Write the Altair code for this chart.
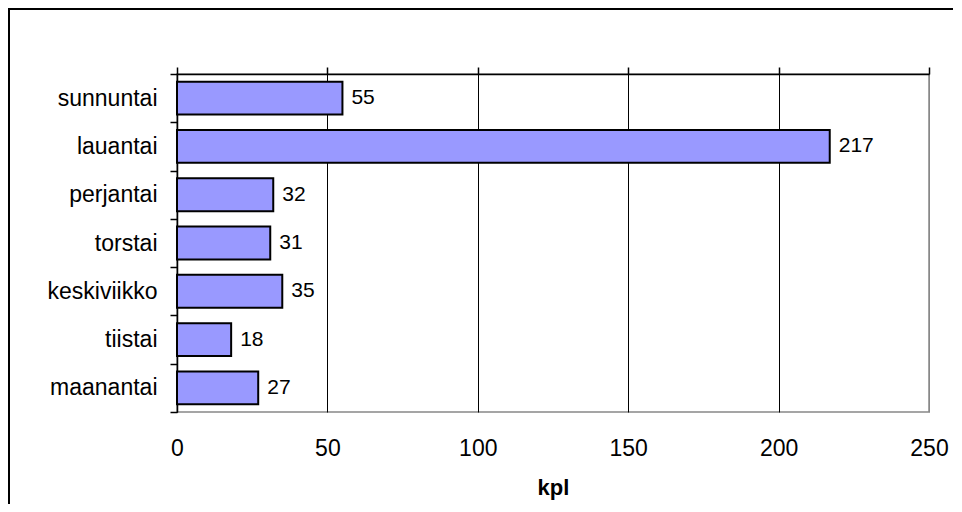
import altair as alt
import pandas as pd

days = ["sunnuntai", "lauantai", "perjantai", "torstai", "keskiviikko", "tiistai", "maanantai"]
counts = [55, 217, 32, 31, 35, 18, 27]
x_ticks = [0, 50, 100, 150, 200, 250]
x_title = "kpl"

df = pd.DataFrame({"day": days, "count": counts})

FONT = "Liberation Sans"

y_enc = alt.Y(
    "day:N",
    sort=days,
    scale=alt.Scale(paddingInner=0, paddingOuter=0),
    axis=alt.Axis(
        title=None,
        domain=True,
        domainColor="black",
        domainWidth=1.5,
        ticks=True,
        tickBand="extent",
        tickSize=7,
        tickColor="black",
        tickWidth=1.5,
        labelFontSize=23,
        labelFont=FONT,
        labelColor="black",
        labelPadding=13,
        grid=False,
    ),
)

x_scale = alt.Scale(domain=[0, 250], nice=False, zero=True)

bars = alt.Chart(df).mark_bar(
    color="#9999FF",
    stroke="black",
    strokeWidth=2,
    height=alt.RelativeBandSize(band=0.68),
).encode(
    x=alt.X(
        "count:Q",
        scale=x_scale,
        axis=alt.Axis(
            orient="bottom",
            values=x_ticks,
            title=x_title,
            titleFont=FONT,
            titleFontSize=22,
            titleFontWeight="bold",
            titleColor="black",
            titlePadding=17,
            labelFont=FONT,
            labelFontSize=23,
            labelColor="black",
            labelPadding=25,
            labelFlush=False,
            ticks=False,
            tickSize=0,
            domain=False,
            grid=False,
        ),
    ),
    y=y_enc,
)

labels = alt.Chart(df).mark_text(
    align="left",
    baseline="middle",
    dx=9,
    font=FONT,
    fontSize=21,
    color="black",
).encode(
    x=alt.X(
        "count:Q",
        scale=x_scale,
        axis=alt.Axis(
            orient="top",
            values=x_ticks,
            title=None,
            labels=False,
            ticks=True,
            tickSize=7,
            tickColor="black",
            tickWidth=1.5,
            domain=True,
            domainColor="black",
            domainWidth=1.5,
            grid=True,
            gridColor=alt.condition("datum.value === 250", alt.value("#888888"), alt.value("black")),
            gridWidth=1,
        ),
    ),
    y=y_enc,
    text=alt.Text("count:Q"),
)

frame_src = alt.Data(values=[{"k": 1}])
top_line = alt.Chart(frame_src).mark_rule(color="black", strokeWidth=2).encode(
    x=alt.value(-169), x2=alt.value(776), y=alt.value(-65)
)
left_line = alt.Chart(frame_src).mark_rule(color="black", strokeWidth=2).encode(
    x=alt.value(-168), y=alt.value(-66), y2=alt.value(440)
)

chart = (
    alt.layer(bars, labels, top_line, left_line)
    .resolve_axis(x="independent")
    .properties(
        width=752,
        height=338,
        padding={"left": 169, "top": 66, "right": 25, "bottom": 92},
        autosize=alt.AutoSizeParams(type="none"),
        background="white",
    )
    .configure_view(stroke="#888888", strokeWidth=1.5)
)

chart.save("out.html", embed_options={"renderer": "svg", "actions": False})
